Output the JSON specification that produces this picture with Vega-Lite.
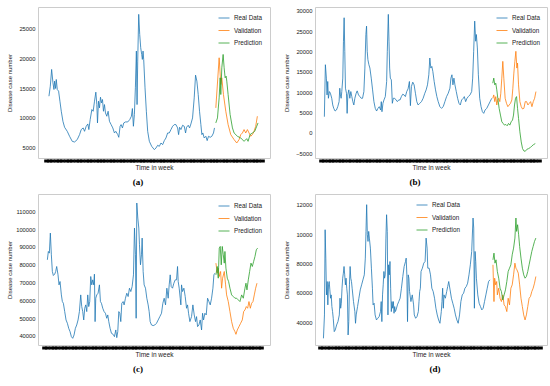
{
"$schema":"https://vega.github.io/schema/vega-lite/v6.json",
"padding":{"left":5,"top":6,"right":0,"bottom":0},
"background":"white",
"resolve":{"scale":{"color":"independent"},"legend":{"color":"independent"}},
"datasets":{
"a":[
{"s":"Real Data","w":0,"v":13620},{"s":"Real Data","w":4,"v":15310},{"s":"Real Data","w":8,"v":18130},{"s":"Real Data","w":12,"v":15870},{"s":"Real Data","w":15,"v":14750},{"s":"Real Data","w":17,"v":16160},{"s":"Real Data","w":20,"v":14920},{"s":"Real Data","w":22,"v":16440},{"s":"Real Data","w":25,"v":14750},{"s":"Real Data","w":29,"v":14470},{"s":"Real Data","w":33,"v":12780},{"s":"Real Data","w":37,"v":11080},{"s":"Real Data","w":42,"v":9390},{"s":"Real Data","w":47,"v":8380},{"s":"Real Data","w":55,"v":7700},{"s":"Real Data","w":62,"v":6860},{"s":"Real Data","w":70,"v":6010},{"s":"Real Data","w":77,"v":5900},{"s":"Real Data","w":85,"v":6300},{"s":"Real Data","w":92,"v":7140},{"s":"Real Data","w":97,"v":7990},{"s":"Real Data","w":103,"v":8270},{"s":"Real Data","w":107,"v":7700},{"s":"Real Data","w":112,"v":8550},{"s":"Real Data","w":117,"v":8940},{"s":"Real Data","w":120,"v":7990},{"s":"Real Data","w":124,"v":9680},{"s":"Real Data","w":129,"v":11370},{"s":"Real Data","w":133,"v":11080},{"s":"Real Data","w":137,"v":12780},{"s":"Real Data","w":141,"v":14300},{"s":"Real Data","w":144,"v":12210},{"s":"Real Data","w":146,"v":9110},{"s":"Real Data","w":149,"v":12780},{"s":"Real Data","w":152,"v":11650},{"s":"Real Data","w":155,"v":13450},{"s":"Real Data","w":158,"v":12490},{"s":"Real Data","w":161,"v":13060},{"s":"Real Data","w":164,"v":11080},{"s":"Real Data","w":167,"v":12210},{"s":"Real Data","w":170,"v":10800},{"s":"Real Data","w":174,"v":10240},{"s":"Real Data","w":178,"v":11080},{"s":"Real Data","w":182,"v":9390},{"s":"Real Data","w":187,"v":8830},{"s":"Real Data","w":192,"v":8270},{"s":"Real Data","w":197,"v":7420},{"s":"Real Data","w":201,"v":7700},{"s":"Real Data","w":207,"v":7140},{"s":"Real Data","w":210,"v":6690},{"s":"Real Data","w":214,"v":8550},{"s":"Real Data","w":217,"v":8830},{"s":"Real Data","w":221,"v":8270},{"s":"Real Data","w":225,"v":9110},{"s":"Real Data","w":230,"v":9280},{"s":"Real Data","w":237,"v":9280},{"s":"Real Data","w":243,"v":9680},{"s":"Real Data","w":248,"v":10240},{"s":"Real Data","w":251,"v":11540},{"s":"Real Data","w":254,"v":8550},{"s":"Real Data","w":257,"v":10520},{"s":"Real Data","w":260,"v":15030},{"s":"Real Data","w":263,"v":21230},{"s":"Real Data","w":265,"v":12210},{"s":"Real Data","w":267,"v":19540},{"s":"Real Data","w":270,"v":27420},{"s":"Real Data","w":273,"v":24040},{"s":"Real Data","w":276,"v":21790},{"s":"Real Data","w":279,"v":20660},{"s":"Real Data","w":281,"v":19820},{"s":"Real Data","w":283,"v":21230},{"s":"Real Data","w":285,"v":19820},{"s":"Real Data","w":289,"v":15030},{"s":"Real Data","w":293,"v":11080},{"s":"Real Data","w":297,"v":7700},{"s":"Real Data","w":302,"v":6010},{"s":"Real Data","w":309,"v":5170},{"s":"Real Data","w":317,"v":4610},{"s":"Real Data","w":322,"v":4890},{"s":"Real Data","w":327,"v":5340},{"s":"Real Data","w":332,"v":5170},{"s":"Real Data","w":337,"v":5730},{"s":"Real Data","w":342,"v":5450},{"s":"Real Data","w":347,"v":6130},{"s":"Real Data","w":352,"v":6580},{"s":"Real Data","w":357,"v":7420},{"s":"Real Data","w":362,"v":7420},{"s":"Real Data","w":367,"v":7990},{"s":"Real Data","w":372,"v":8550},{"s":"Real Data","w":377,"v":8830},{"s":"Real Data","w":382,"v":8830},{"s":"Real Data","w":387,"v":8270},{"s":"Real Data","w":390,"v":7140},{"s":"Real Data","w":393,"v":8380},{"s":"Real Data","w":397,"v":7990},{"s":"Real Data","w":402,"v":8720},{"s":"Real Data","w":407,"v":8550},{"s":"Real Data","w":411,"v":7420},{"s":"Real Data","w":414,"v":8380},{"s":"Real Data","w":419,"v":8720},{"s":"Real Data","w":423,"v":8270},{"s":"Real Data","w":427,"v":8940},{"s":"Real Data","w":432,"v":9960},{"s":"Real Data","w":437,"v":13340},{"s":"Real Data","w":441,"v":17170},{"s":"Real Data","w":445,"v":16160},{"s":"Real Data","w":449,"v":13900},{"s":"Real Data","w":453,"v":11080},{"s":"Real Data","w":457,"v":8830},{"s":"Real Data","w":460,"v":7140},{"s":"Real Data","w":463,"v":7420},{"s":"Real Data","w":467,"v":6580},{"s":"Real Data","w":472,"v":6860},{"s":"Real Data","w":476,"v":6130},{"s":"Real Data","w":480,"v":6860},{"s":"Real Data","w":485,"v":6690},{"s":"Real Data","w":490,"v":6860},{"s":"Real Data","w":495,"v":7420},{"s":"Real Data","w":498,"v":8270},
{"s":"Validation","w":502,"v":11650},{"s":"Validation","w":512,"v":20100},{"s":"Validation","w":517,"v":15590},{"s":"Validation","w":520,"v":16720},{"s":"Validation","w":525,"v":13900},{"s":"Validation","w":532,"v":11080},{"s":"Validation","w":539,"v":8830},{"s":"Validation","w":547,"v":7140},{"s":"Validation","w":557,"v":6300},{"s":"Validation","w":565,"v":5730},{"s":"Validation","w":572,"v":6300},{"s":"Validation","w":577,"v":7140},{"s":"Validation","w":582,"v":7420},{"s":"Validation","w":587,"v":7990},{"s":"Validation","w":592,"v":7420},{"s":"Validation","w":597,"v":7990},{"s":"Validation","w":602,"v":7420},{"s":"Validation","w":607,"v":6860},{"s":"Validation","w":612,"v":7140},{"s":"Validation","w":617,"v":7700},{"s":"Validation","w":622,"v":8550},{"s":"Validation","w":627,"v":10240},
{"s":"Prediction","w":502,"v":9110},{"s":"Prediction","w":507,"v":9960},{"s":"Prediction","w":512,"v":13340},{"s":"Prediction","w":515,"v":16720},{"s":"Prediction","w":517,"v":13900},{"s":"Prediction","w":520,"v":18410},{"s":"Prediction","w":524,"v":20660},{"s":"Prediction","w":527,"v":18410},{"s":"Prediction","w":530,"v":16720},{"s":"Prediction","w":533,"v":17000},{"s":"Prediction","w":535,"v":16160},{"s":"Prediction","w":539,"v":13900},{"s":"Prediction","w":545,"v":10520},{"s":"Prediction","w":552,"v":8270},{"s":"Prediction","w":557,"v":7420},{"s":"Prediction","w":567,"v":6860},{"s":"Prediction","w":577,"v":6580},{"s":"Prediction","w":587,"v":6010},{"s":"Prediction","w":595,"v":6460},{"s":"Prediction","w":599,"v":6010},{"s":"Prediction","w":605,"v":7140},{"s":"Prediction","w":612,"v":7420},{"s":"Prediction","w":619,"v":7700},{"s":"Prediction","w":625,"v":8550},{"s":"Prediction","w":629,"v":9110}
],
"b":[
{"s":"Real Data","w":0,"v":3955},{"s":"Real Data","w":3,"v":16727},{"s":"Real Data","w":6,"v":13431},{"s":"Real Data","w":8,"v":9311},{"s":"Real Data","w":10,"v":12607},{"s":"Real Data","w":12,"v":8487},{"s":"Real Data","w":15,"v":10135},{"s":"Real Data","w":18,"v":9723},{"s":"Real Data","w":22,"v":8487},{"s":"Real Data","w":25,"v":6839},{"s":"Real Data","w":28,"v":6015},{"s":"Real Data","w":32,"v":5356},{"s":"Real Data","w":36,"v":5603},{"s":"Real Data","w":40,"v":6427},{"s":"Real Data","w":44,"v":7663},{"s":"Real Data","w":46,"v":10959},{"s":"Real Data","w":48,"v":9311},{"s":"Real Data","w":50,"v":8487},{"s":"Real Data","w":52,"v":10135},{"s":"Real Data","w":55,"v":13431},{"s":"Real Data","w":57,"v":22495},{"s":"Real Data","w":59,"v":28263},{"s":"Real Data","w":61,"v":20023},{"s":"Real Data","w":63,"v":10959},{"s":"Real Data","w":66,"v":9723},{"s":"Real Data","w":68,"v":4779},{"s":"Real Data","w":70,"v":9311},{"s":"Real Data","w":73,"v":10547},{"s":"Real Data","w":76,"v":8487},{"s":"Real Data","w":79,"v":10135},{"s":"Real Data","w":82,"v":8899},{"s":"Real Data","w":85,"v":7663},{"s":"Real Data","w":88,"v":6839},{"s":"Real Data","w":91,"v":8487},{"s":"Real Data","w":95,"v":9723},{"s":"Real Data","w":98,"v":10300},{"s":"Real Data","w":102,"v":9311},{"s":"Real Data","w":106,"v":8899},{"s":"Real Data","w":110,"v":8487},{"s":"Real Data","w":114,"v":8487},{"s":"Real Data","w":118,"v":10135},{"s":"Real Data","w":121,"v":15903},{"s":"Real Data","w":124,"v":24143},{"s":"Real Data","w":126,"v":26203},{"s":"Real Data","w":128,"v":20023},{"s":"Real Data","w":130,"v":17963},{"s":"Real Data","w":133,"v":16727},{"s":"Real Data","w":136,"v":15903},{"s":"Real Data","w":140,"v":13431},{"s":"Real Data","w":144,"v":10547},{"s":"Real Data","w":148,"v":7663},{"s":"Real Data","w":152,"v":6015},{"s":"Real Data","w":156,"v":5356},{"s":"Real Data","w":160,"v":6015},{"s":"Real Data","w":164,"v":6427},{"s":"Real Data","w":168,"v":5603},{"s":"Real Data","w":170,"v":7663},{"s":"Real Data","w":172,"v":5191},{"s":"Real Data","w":175,"v":7251},{"s":"Real Data","w":178,"v":8075},{"s":"Real Data","w":182,"v":8899},{"s":"Real Data","w":186,"v":12607},{"s":"Real Data","w":188,"v":20023},{"s":"Real Data","w":191,"v":29087},{"s":"Real Data","w":193,"v":22495},{"s":"Real Data","w":195,"v":15903},{"s":"Real Data","w":197,"v":13431},{"s":"Real Data","w":200,"v":13019},{"s":"Real Data","w":203,"v":7251},{"s":"Real Data","w":206,"v":8487},{"s":"Real Data","w":210,"v":8487},{"s":"Real Data","w":214,"v":8075},{"s":"Real Data","w":218,"v":7663},{"s":"Real Data","w":222,"v":8075},{"s":"Real Data","w":226,"v":8075},{"s":"Real Data","w":230,"v":8899},{"s":"Real Data","w":234,"v":9476},{"s":"Real Data","w":238,"v":9311},{"s":"Real Data","w":242,"v":8899},{"s":"Real Data","w":246,"v":10135},{"s":"Real Data","w":250,"v":10794},{"s":"Real Data","w":254,"v":12607},{"s":"Real Data","w":257,"v":6674},{"s":"Real Data","w":260,"v":11371},{"s":"Real Data","w":264,"v":12442},{"s":"Real Data","w":268,"v":11783},{"s":"Real Data","w":272,"v":9723},{"s":"Real Data","w":276,"v":7663},{"s":"Real Data","w":280,"v":6839},{"s":"Real Data","w":285,"v":7251},{"s":"Real Data","w":290,"v":7663},{"s":"Real Data","w":295,"v":8487},{"s":"Real Data","w":300,"v":9723},{"s":"Real Data","w":304,"v":10547},{"s":"Real Data","w":308,"v":11783},{"s":"Real Data","w":312,"v":14255},{"s":"Real Data","w":315,"v":18375},{"s":"Real Data","w":318,"v":15903},{"s":"Real Data","w":321,"v":16315},{"s":"Real Data","w":324,"v":15079},{"s":"Real Data","w":328,"v":12607},{"s":"Real Data","w":332,"v":10547},{"s":"Real Data","w":336,"v":8899},{"s":"Real Data","w":340,"v":7663},{"s":"Real Data","w":345,"v":6427},{"s":"Real Data","w":350,"v":6015},{"s":"Real Data","w":355,"v":6427},{"s":"Real Data","w":360,"v":7663},{"s":"Real Data","w":365,"v":8899},{"s":"Real Data","w":370,"v":9723},{"s":"Real Data","w":375,"v":10959},{"s":"Real Data","w":378,"v":13431},{"s":"Real Data","w":381,"v":14255},{"s":"Real Data","w":384,"v":11783},{"s":"Real Data","w":387,"v":13431},{"s":"Real Data","w":390,"v":11783},{"s":"Real Data","w":394,"v":10135},{"s":"Real Data","w":398,"v":8487},{"s":"Real Data","w":402,"v":7251},{"s":"Real Data","w":406,"v":6839},{"s":"Real Data","w":410,"v":8075},{"s":"Real Data","w":415,"v":8487},{"s":"Real Data","w":418,"v":8899},{"s":"Real Data","w":422,"v":7663},{"s":"Real Data","w":426,"v":8487},{"s":"Real Data","w":430,"v":8899},{"s":"Real Data","w":435,"v":9311},{"s":"Real Data","w":440,"v":10135},{"s":"Real Data","w":443,"v":13431},{"s":"Real Data","w":446,"v":20023},{"s":"Real Data","w":449,"v":27439},{"s":"Real Data","w":452,"v":22495},{"s":"Real Data","w":454,"v":24143},{"s":"Real Data","w":457,"v":20847},{"s":"Real Data","w":460,"v":14255},{"s":"Real Data","w":464,"v":8487},{"s":"Real Data","w":468,"v":6427},{"s":"Real Data","w":472,"v":5191},{"s":"Real Data","w":476,"v":4779},{"s":"Real Data","w":480,"v":5603},{"s":"Real Data","w":485,"v":6015},{"s":"Real Data","w":490,"v":6839},{"s":"Real Data","w":495,"v":7663},{"s":"Real Data","w":500,"v":8487},
{"s":"Validation","w":503,"v":8487},{"s":"Validation","w":506,"v":9311},{"s":"Validation","w":509,"v":7663},{"s":"Validation","w":512,"v":8899},{"s":"Validation","w":515,"v":6839},{"s":"Validation","w":518,"v":8075},{"s":"Validation","w":521,"v":8487},{"s":"Validation","w":524,"v":7663},{"s":"Validation","w":527,"v":9723},{"s":"Validation","w":530,"v":13431},{"s":"Validation","w":533,"v":17550},{"s":"Validation","w":536,"v":13431},{"s":"Validation","w":540,"v":8487},{"s":"Validation","w":544,"v":7251},{"s":"Validation","w":548,"v":6427},{"s":"Validation","w":552,"v":6839},{"s":"Validation","w":556,"v":7251},{"s":"Validation","w":560,"v":8075},{"s":"Validation","w":563,"v":10959},{"s":"Validation","w":566,"v":14667},{"s":"Validation","w":569,"v":17550},{"s":"Validation","w":572,"v":20020},{"s":"Validation","w":575,"v":15903},{"s":"Validation","w":577,"v":17139},{"s":"Validation","w":580,"v":11783},{"s":"Validation","w":584,"v":7663},{"s":"Validation","w":588,"v":6427},{"s":"Validation","w":592,"v":5850},{"s":"Validation","w":596,"v":6015},{"s":"Validation","w":600,"v":7663},{"s":"Validation","w":604,"v":7663},{"s":"Validation","w":608,"v":6839},{"s":"Validation","w":612,"v":7251},{"s":"Validation","w":616,"v":7663},{"s":"Validation","w":620,"v":6427},{"s":"Validation","w":624,"v":7663},{"s":"Validation","w":628,"v":8487},{"s":"Validation","w":632,"v":10130},
{"s":"Prediction","w":503,"v":12195},{"s":"Prediction","w":506,"v":13431},{"s":"Prediction","w":509,"v":11783},{"s":"Prediction","w":512,"v":12195},{"s":"Prediction","w":515,"v":10547},{"s":"Prediction","w":518,"v":8487},{"s":"Prediction","w":522,"v":6015},{"s":"Prediction","w":526,"v":4367},{"s":"Prediction","w":530,"v":2719},{"s":"Prediction","w":534,"v":2307},{"s":"Prediction","w":538,"v":1895},{"s":"Prediction","w":542,"v":2060},{"s":"Prediction","w":546,"v":1730},{"s":"Prediction","w":550,"v":2307},{"s":"Prediction","w":554,"v":1895},{"s":"Prediction","w":558,"v":2719},{"s":"Prediction","w":562,"v":3131},{"s":"Prediction","w":565,"v":4367},{"s":"Prediction","w":568,"v":6839},{"s":"Prediction","w":571,"v":8487},{"s":"Prediction","w":574,"v":8899},{"s":"Prediction","w":577,"v":6015},{"s":"Prediction","w":580,"v":3543},{"s":"Prediction","w":584,"v":247},{"s":"Prediction","w":588,"v":-2225},{"s":"Prediction","w":592,"v":-3872},{"s":"Prediction","w":596,"v":-4450},{"s":"Prediction","w":600,"v":-4532},{"s":"Prediction","w":605,"v":-4038},{"s":"Prediction","w":610,"v":-3872},{"s":"Prediction","w":615,"v":-3625},{"s":"Prediction","w":620,"v":-3213},{"s":"Prediction","w":625,"v":-2884},{"s":"Prediction","w":630,"v":-2637}
],
"c":[
{"s":"Real Data","w":0,"v":82770},{"s":"Real Data","w":3,"v":87460},{"s":"Real Data","w":6,"v":86520},{"s":"Real Data","w":9,"v":97780},{"s":"Real Data","w":12,"v":85590},{"s":"Real Data","w":15,"v":76210},{"s":"Real Data","w":18,"v":73960},{"s":"Real Data","w":22,"v":74710},{"s":"Real Data","w":25,"v":76210},{"s":"Real Data","w":28,"v":79020},{"s":"Real Data","w":32,"v":74330},{"s":"Real Data","w":35,"v":68700},{"s":"Real Data","w":38,"v":70580},{"s":"Real Data","w":42,"v":63070},{"s":"Real Data","w":45,"v":59320},{"s":"Real Data","w":48,"v":58380},{"s":"Real Data","w":52,"v":53690},{"s":"Real Data","w":56,"v":49000},{"s":"Real Data","w":60,"v":47130},{"s":"Real Data","w":64,"v":44310},{"s":"Real Data","w":68,"v":42440},{"s":"Real Data","w":72,"v":39620},{"s":"Real Data","w":76,"v":38690},{"s":"Real Data","w":80,"v":40560},{"s":"Real Data","w":84,"v":44310},{"s":"Real Data","w":88,"v":46190},{"s":"Real Data","w":92,"v":49000},{"s":"Real Data","w":96,"v":53690},{"s":"Real Data","w":100,"v":63070},{"s":"Real Data","w":103,"v":56510},{"s":"Real Data","w":106,"v":53690},{"s":"Real Data","w":109,"v":49000},{"s":"Real Data","w":112,"v":55570},{"s":"Real Data","w":115,"v":57450},{"s":"Real Data","w":118,"v":53690},{"s":"Real Data","w":121,"v":63070},{"s":"Real Data","w":124,"v":56510},{"s":"Real Data","w":127,"v":59320},{"s":"Real Data","w":130,"v":73390},{"s":"Real Data","w":133,"v":68700},{"s":"Real Data","w":136,"v":71520},{"s":"Real Data","w":139,"v":68700},{"s":"Real Data","w":141,"v":74710},{"s":"Real Data","w":143,"v":48070},{"s":"Real Data","w":145,"v":61200},{"s":"Real Data","w":148,"v":63070},{"s":"Real Data","w":152,"v":64010},{"s":"Real Data","w":156,"v":68700},{"s":"Real Data","w":159,"v":59320},{"s":"Real Data","w":162,"v":58380},{"s":"Real Data","w":166,"v":55570},{"s":"Real Data","w":170,"v":53690},{"s":"Real Data","w":174,"v":52760},{"s":"Real Data","w":178,"v":49940},{"s":"Real Data","w":181,"v":51820},{"s":"Real Data","w":184,"v":48070},{"s":"Real Data","w":188,"v":44310},{"s":"Real Data","w":192,"v":41500},{"s":"Real Data","w":197,"v":40940},{"s":"Real Data","w":201,"v":39620},{"s":"Real Data","w":205,"v":43380},{"s":"Real Data","w":208,"v":39060},{"s":"Real Data","w":211,"v":42440},{"s":"Real Data","w":214,"v":53690},{"s":"Real Data","w":217,"v":52760},{"s":"Real Data","w":220,"v":48070},{"s":"Real Data","w":223,"v":58380},{"s":"Real Data","w":227,"v":59320},{"s":"Real Data","w":230,"v":57450},{"s":"Real Data","w":234,"v":61200},{"s":"Real Data","w":238,"v":64010},{"s":"Real Data","w":242,"v":62140},{"s":"Real Data","w":246,"v":66830},{"s":"Real Data","w":250,"v":64950},{"s":"Real Data","w":254,"v":67760},{"s":"Real Data","w":258,"v":74330},{"s":"Real Data","w":261,"v":100600},{"s":"Real Data","w":264,"v":85590},{"s":"Real Data","w":266,"v":49940},{"s":"Real Data","w":268,"v":114660},{"s":"Real Data","w":271,"v":106220},{"s":"Real Data","w":274,"v":100600},{"s":"Real Data","w":276,"v":91210},{"s":"Real Data","w":279,"v":79960},{"s":"Real Data","w":282,"v":85590},{"s":"Real Data","w":284,"v":94970},{"s":"Real Data","w":287,"v":76210},{"s":"Real Data","w":290,"v":68700},{"s":"Real Data","w":294,"v":66830},{"s":"Real Data","w":298,"v":61200},{"s":"Real Data","w":302,"v":57450},{"s":"Real Data","w":305,"v":53690},{"s":"Real Data","w":308,"v":48070},{"s":"Real Data","w":312,"v":46190},{"s":"Real Data","w":317,"v":45820},{"s":"Real Data","w":322,"v":46190},{"s":"Real Data","w":327,"v":47130},{"s":"Real Data","w":332,"v":49000},{"s":"Real Data","w":337,"v":50880},{"s":"Real Data","w":342,"v":52760},{"s":"Real Data","w":346,"v":58380},{"s":"Real Data","w":350,"v":61200},{"s":"Real Data","w":354,"v":57450},{"s":"Real Data","w":358,"v":66830},{"s":"Real Data","w":362,"v":61200},{"s":"Real Data","w":365,"v":68700},{"s":"Real Data","w":368,"v":74330},{"s":"Real Data","w":371,"v":67760},{"s":"Real Data","w":375,"v":66830},{"s":"Real Data","w":379,"v":69640},{"s":"Real Data","w":383,"v":71520},{"s":"Real Data","w":387,"v":71520},{"s":"Real Data","w":390,"v":79020},{"s":"Real Data","w":392,"v":70580},{"s":"Real Data","w":395,"v":66830},{"s":"Real Data","w":398,"v":61200},{"s":"Real Data","w":400,"v":57450},{"s":"Real Data","w":402,"v":68700},{"s":"Real Data","w":405,"v":64950},{"s":"Real Data","w":409,"v":66830},{"s":"Real Data","w":413,"v":62140},{"s":"Real Data","w":417,"v":55570},{"s":"Real Data","w":420,"v":57450},{"s":"Real Data","w":423,"v":52760},{"s":"Real Data","w":427,"v":48070},{"s":"Real Data","w":432,"v":50880},{"s":"Real Data","w":436,"v":57450},{"s":"Real Data","w":440,"v":51820},{"s":"Real Data","w":444,"v":48070},{"s":"Real Data","w":447,"v":50880},{"s":"Real Data","w":450,"v":45250},{"s":"Real Data","w":454,"v":46190},{"s":"Real Data","w":458,"v":49000},{"s":"Real Data","w":462,"v":43380},{"s":"Real Data","w":465,"v":52760},{"s":"Real Data","w":468,"v":49000},{"s":"Real Data","w":472,"v":52760},{"s":"Real Data","w":476,"v":51820},{"s":"Real Data","w":480,"v":61200},{"s":"Real Data","w":484,"v":59320},{"s":"Real Data","w":488,"v":57450},{"s":"Real Data","w":492,"v":61200},{"s":"Real Data","w":496,"v":66830},{"s":"Real Data","w":499,"v":74330},{"s":"Real Data","w":502,"v":75270},
{"s":"Validation","w":505,"v":80900},{"s":"Validation","w":509,"v":75270},{"s":"Validation","w":512,"v":78080},{"s":"Validation","w":515,"v":73390},{"s":"Validation","w":519,"v":76210},{"s":"Validation","w":522,"v":66830},{"s":"Validation","w":525,"v":72460},{"s":"Validation","w":530,"v":76210},{"s":"Validation","w":534,"v":68700},{"s":"Validation","w":537,"v":63070},{"s":"Validation","w":542,"v":59320},{"s":"Validation","w":547,"v":53690},{"s":"Validation","w":552,"v":48070},{"s":"Validation","w":557,"v":44310},{"s":"Validation","w":562,"v":42440},{"s":"Validation","w":565,"v":40940},{"s":"Validation","w":569,"v":43380},{"s":"Validation","w":574,"v":45250},{"s":"Validation","w":579,"v":47130},{"s":"Validation","w":584,"v":49000},{"s":"Validation","w":588,"v":53690},{"s":"Validation","w":592,"v":54630},{"s":"Validation","w":596,"v":56510},{"s":"Validation","w":600,"v":55570},{"s":"Validation","w":604,"v":59320},{"s":"Validation","w":608,"v":55570},{"s":"Validation","w":612,"v":58380},{"s":"Validation","w":616,"v":59320},{"s":"Validation","w":620,"v":63070},{"s":"Validation","w":624,"v":66830},{"s":"Validation","w":628,"v":69640},
{"s":"Prediction","w":505,"v":74330},{"s":"Prediction","w":509,"v":79020},{"s":"Prediction","w":512,"v":72460},{"s":"Prediction","w":515,"v":89340},{"s":"Prediction","w":518,"v":90280},{"s":"Prediction","w":521,"v":79960},{"s":"Prediction","w":524,"v":90280},{"s":"Prediction","w":527,"v":85590},{"s":"Prediction","w":530,"v":80900},{"s":"Prediction","w":532,"v":87460},{"s":"Prediction","w":535,"v":78080},{"s":"Prediction","w":539,"v":72460},{"s":"Prediction","w":543,"v":70580},{"s":"Prediction","w":547,"v":66830},{"s":"Prediction","w":552,"v":63070},{"s":"Prediction","w":557,"v":62140},{"s":"Prediction","w":562,"v":61200},{"s":"Prediction","w":567,"v":61200},{"s":"Prediction","w":572,"v":60260},{"s":"Prediction","w":577,"v":59320},{"s":"Prediction","w":582,"v":63070},{"s":"Prediction","w":587,"v":61200},{"s":"Prediction","w":592,"v":66830},{"s":"Prediction","w":595,"v":69640},{"s":"Prediction","w":598,"v":65890},{"s":"Prediction","w":602,"v":71520},{"s":"Prediction","w":606,"v":76210},{"s":"Prediction","w":610,"v":80900},{"s":"Prediction","w":614,"v":79020},{"s":"Prediction","w":618,"v":81840},{"s":"Prediction","w":622,"v":84650},{"s":"Prediction","w":626,"v":88400},{"s":"Prediction","w":630,"v":89340}
],
"d":[
{"s":"Real Data","w":0,"v":29090},{"s":"Real Data","w":3,"v":45000},{"s":"Real Data","w":5,"v":102960},{"s":"Real Data","w":7,"v":83640},{"s":"Real Data","w":9,"v":58640},{"s":"Real Data","w":11,"v":67730},{"s":"Real Data","w":13,"v":51820},{"s":"Real Data","w":15,"v":65460},{"s":"Real Data","w":17,"v":67730},{"s":"Real Data","w":19,"v":62050},{"s":"Real Data","w":21,"v":56370},{"s":"Real Data","w":23,"v":58640},{"s":"Real Data","w":25,"v":50680},{"s":"Real Data","w":27,"v":47270},{"s":"Real Data","w":29,"v":42730},{"s":"Real Data","w":32,"v":33640},{"s":"Real Data","w":35,"v":34770},{"s":"Real Data","w":39,"v":38180},{"s":"Real Data","w":43,"v":40450},{"s":"Real Data","w":47,"v":45000},{"s":"Real Data","w":49,"v":56370},{"s":"Real Data","w":51,"v":49550},{"s":"Real Data","w":53,"v":52960},{"s":"Real Data","w":55,"v":63180},{"s":"Real Data","w":57,"v":70000},{"s":"Real Data","w":59,"v":73410},{"s":"Real Data","w":61,"v":77960},{"s":"Real Data","w":63,"v":72280},{"s":"Real Data","w":65,"v":65460},{"s":"Real Data","w":67,"v":70000},{"s":"Real Data","w":69,"v":63180},{"s":"Real Data","w":71,"v":58640},{"s":"Real Data","w":73,"v":31360},{"s":"Real Data","w":75,"v":40450},{"s":"Real Data","w":77,"v":65460},{"s":"Real Data","w":79,"v":77960},{"s":"Real Data","w":81,"v":70000},{"s":"Real Data","w":83,"v":67730},{"s":"Real Data","w":85,"v":63180},{"s":"Real Data","w":89,"v":54090},{"s":"Real Data","w":93,"v":47270},{"s":"Real Data","w":95,"v":39320},{"s":"Real Data","w":97,"v":45000},{"s":"Real Data","w":101,"v":50680},{"s":"Real Data","w":105,"v":56370},{"s":"Real Data","w":109,"v":62050},{"s":"Real Data","w":113,"v":65460},{"s":"Real Data","w":117,"v":68870},{"s":"Real Data","w":121,"v":72280},{"s":"Real Data","w":124,"v":83640},{"s":"Real Data","w":126,"v":101830},{"s":"Real Data","w":128,"v":120010},{"s":"Real Data","w":130,"v":99550},{"s":"Real Data","w":132,"v":95010},{"s":"Real Data","w":134,"v":101830},{"s":"Real Data","w":136,"v":97280},{"s":"Real Data","w":139,"v":90460},{"s":"Real Data","w":142,"v":76820},{"s":"Real Data","w":145,"v":63180},{"s":"Real Data","w":147,"v":51820},{"s":"Real Data","w":150,"v":52960},{"s":"Real Data","w":153,"v":45000},{"s":"Real Data","w":157,"v":41590},{"s":"Real Data","w":161,"v":42730},{"s":"Real Data","w":165,"v":43860},{"s":"Real Data","w":169,"v":47270},{"s":"Real Data","w":171,"v":54090},{"s":"Real Data","w":173,"v":40450},{"s":"Real Data","w":175,"v":58640},{"s":"Real Data","w":177,"v":65460},{"s":"Real Data","w":179,"v":74550},{"s":"Real Data","w":181,"v":70000},{"s":"Real Data","w":183,"v":72280},{"s":"Real Data","w":185,"v":97280},{"s":"Real Data","w":187,"v":113190},{"s":"Real Data","w":189,"v":101830},{"s":"Real Data","w":191,"v":45000},{"s":"Real Data","w":193,"v":79100},{"s":"Real Data","w":195,"v":72280},{"s":"Real Data","w":197,"v":81370},{"s":"Real Data","w":199,"v":63180},{"s":"Real Data","w":201,"v":47270},{"s":"Real Data","w":203,"v":54090},{"s":"Real Data","w":205,"v":49550},{"s":"Real Data","w":207,"v":54090},{"s":"Real Data","w":209,"v":46140},{"s":"Real Data","w":211,"v":50680},{"s":"Real Data","w":213,"v":47270},{"s":"Real Data","w":215,"v":48410},{"s":"Real Data","w":219,"v":51820},{"s":"Real Data","w":223,"v":54090},{"s":"Real Data","w":227,"v":56370},{"s":"Real Data","w":231,"v":63180},{"s":"Real Data","w":235,"v":71140},{"s":"Real Data","w":239,"v":77960},{"s":"Real Data","w":243,"v":81370},{"s":"Real Data","w":245,"v":83640},{"s":"Real Data","w":247,"v":72280},{"s":"Real Data","w":249,"v":40450},{"s":"Real Data","w":251,"v":72280},{"s":"Real Data","w":253,"v":70000},{"s":"Real Data","w":255,"v":60910},{"s":"Real Data","w":259,"v":54090},{"s":"Real Data","w":263,"v":58640},{"s":"Real Data","w":267,"v":51820},{"s":"Real Data","w":269,"v":45000},{"s":"Real Data","w":273,"v":42730},{"s":"Real Data","w":277,"v":43860},{"s":"Real Data","w":281,"v":47270},{"s":"Real Data","w":283,"v":54090},{"s":"Real Data","w":285,"v":60910},{"s":"Real Data","w":287,"v":63180},{"s":"Real Data","w":289,"v":74550},{"s":"Real Data","w":293,"v":76820},{"s":"Real Data","w":297,"v":80230},{"s":"Real Data","w":301,"v":81370},{"s":"Real Data","w":304,"v":97280},{"s":"Real Data","w":307,"v":90460},{"s":"Real Data","w":309,"v":76820},{"s":"Real Data","w":313,"v":76820},{"s":"Real Data","w":317,"v":72280},{"s":"Real Data","w":321,"v":63180},{"s":"Real Data","w":325,"v":60910},{"s":"Real Data","w":329,"v":56370},{"s":"Real Data","w":333,"v":49550},{"s":"Real Data","w":337,"v":45000},{"s":"Real Data","w":341,"v":41590},{"s":"Real Data","w":345,"v":39320},{"s":"Real Data","w":349,"v":47270},{"s":"Real Data","w":351,"v":54090},{"s":"Real Data","w":353,"v":63180},{"s":"Real Data","w":355,"v":49550},{"s":"Real Data","w":357,"v":58640},{"s":"Real Data","w":361,"v":56370},{"s":"Real Data","w":365,"v":60910},{"s":"Real Data","w":368,"v":64320},{"s":"Real Data","w":371,"v":67730},{"s":"Real Data","w":375,"v":62050},{"s":"Real Data","w":379,"v":56370},{"s":"Real Data","w":383,"v":52960},{"s":"Real Data","w":387,"v":49550},{"s":"Real Data","w":391,"v":45000},{"s":"Real Data","w":395,"v":41590},{"s":"Real Data","w":399,"v":39320},{"s":"Real Data","w":403,"v":45000},{"s":"Real Data","w":407,"v":54090},{"s":"Real Data","w":411,"v":58640},{"s":"Real Data","w":415,"v":59780},{"s":"Real Data","w":419,"v":63180},{"s":"Real Data","w":423,"v":64320},{"s":"Real Data","w":427,"v":66590},{"s":"Real Data","w":431,"v":72280},{"s":"Real Data","w":435,"v":79100},{"s":"Real Data","w":439,"v":88190},{"s":"Real Data","w":443,"v":110920},{"s":"Real Data","w":445,"v":104100},{"s":"Real Data","w":447,"v":49550},{"s":"Real Data","w":449,"v":88190},{"s":"Real Data","w":451,"v":81370},{"s":"Real Data","w":453,"v":70000},{"s":"Real Data","w":457,"v":58640},{"s":"Real Data","w":461,"v":52960},{"s":"Real Data","w":465,"v":50680},{"s":"Real Data","w":469,"v":48410},{"s":"Real Data","w":473,"v":49550},{"s":"Real Data","w":477,"v":54090},{"s":"Real Data","w":481,"v":58640},{"s":"Real Data","w":485,"v":63180},{"s":"Real Data","w":489,"v":67730},{"s":"Real Data","w":493,"v":68870},
{"s":"Validation","w":502,"v":79100},{"s":"Validation","w":505,"v":54090},{"s":"Validation","w":507,"v":70000},{"s":"Validation","w":510,"v":65460},{"s":"Validation","w":513,"v":67730},{"s":"Validation","w":515,"v":58640},{"s":"Validation","w":519,"v":63180},{"s":"Validation","w":523,"v":56370},{"s":"Validation","w":527,"v":54090},{"s":"Validation","w":531,"v":58640},{"s":"Validation","w":535,"v":51820},{"s":"Validation","w":539,"v":50680},{"s":"Validation","w":543,"v":47270},{"s":"Validation","w":547,"v":56370},{"s":"Validation","w":551,"v":51820},{"s":"Validation","w":555,"v":63180},{"s":"Validation","w":559,"v":65460},{"s":"Validation","w":563,"v":72280},{"s":"Validation","w":567,"v":80230},{"s":"Validation","w":570,"v":76820},{"s":"Validation","w":573,"v":75690},{"s":"Validation","w":577,"v":73410},{"s":"Validation","w":581,"v":65460},{"s":"Validation","w":585,"v":56370},{"s":"Validation","w":589,"v":50680},{"s":"Validation","w":593,"v":45000},{"s":"Validation","w":597,"v":41590},{"s":"Validation","w":601,"v":45000},{"s":"Validation","w":605,"v":50680},{"s":"Validation","w":609,"v":56370},{"s":"Validation","w":613,"v":57500},{"s":"Validation","w":617,"v":60910},{"s":"Validation","w":621,"v":63180},{"s":"Validation","w":625,"v":66590},{"s":"Validation","w":629,"v":71140},
{"s":"Prediction","w":502,"v":82500},{"s":"Prediction","w":505,"v":87050},{"s":"Prediction","w":508,"v":80230},{"s":"Prediction","w":511,"v":82500},{"s":"Prediction","w":515,"v":74550},{"s":"Prediction","w":519,"v":70000},{"s":"Prediction","w":523,"v":63180},{"s":"Prediction","w":527,"v":60910},{"s":"Prediction","w":531,"v":55220},{"s":"Prediction","w":535,"v":58640},{"s":"Prediction","w":539,"v":62050},{"s":"Prediction","w":543,"v":67730},{"s":"Prediction","w":547,"v":74550},{"s":"Prediction","w":551,"v":76820},{"s":"Prediction","w":555,"v":79100},{"s":"Prediction","w":559,"v":85910},{"s":"Prediction","w":563,"v":90460},{"s":"Prediction","w":567,"v":97280},{"s":"Prediction","w":570,"v":110920},{"s":"Prediction","w":572,"v":101830},{"s":"Prediction","w":575,"v":106370},{"s":"Prediction","w":578,"v":99550},{"s":"Prediction","w":581,"v":91600},{"s":"Prediction","w":585,"v":83640},{"s":"Prediction","w":589,"v":76820},{"s":"Prediction","w":593,"v":72280},{"s":"Prediction","w":597,"v":70000},{"s":"Prediction","w":601,"v":71140},{"s":"Prediction","w":605,"v":74550},{"s":"Prediction","w":609,"v":79100},{"s":"Prediction","w":613,"v":83640},{"s":"Prediction","w":617,"v":88190},{"s":"Prediction","w":621,"v":91600},{"s":"Prediction","w":625,"v":95010},{"s":"Prediction","w":629,"v":97280}
]
},
"config":{
"view":{"stroke":"#cccccc","strokeWidth":1},
"font":"Liberation Sans",
"axis":{"grid":false,"domain":false,"labelFont":"Liberation Sans","titleFont":"Liberation Sans","labelColor":"#222222","titleColor":"#222222","titleFontWeight":"normal"},
"axisY":{"ticks":false,"labelFontSize":5.8,"labelPadding":3,"titleFontSize":6,"titlePadding":3,"minExtent":23,"maxExtent":23,"format":"d"},
"axisX":{"labels":false,"ticks":true,"tickColor":"black","tickSize":3,"tickWidth":4.6,"offset":1,"titleFontSize":6.5,"titlePadding":0},
"legend":{"orient":"none","symbolType":"stroke","symbolStrokeWidth":1.8,"symbolSize":121,"labelFontSize":6.3,"labelFont":"Liberation Sans","labelColor":"#222222","rowPadding":2.5,"labelOffset":4},
"title":{"orient":"bottom","font":"Liberation Serif","fontSize":9,"fontWeight":"bold","offset":7,"anchor":"middle","frame":"bounds","color":"black"},
"line":{"strokeWidth":0.8}
},
"spacing":5,
"vconcat":[
{"spacing":11,"resolve":{"scale":{"color":"independent"},"legend":{"color":"independent"}},"hconcat":[
{"width":232,"height":151,"data":{"name":"a"},"title":{"text":"(a)"},"mark":{"type":"line"},
"encoding":{
"x":{"field":"w","type":"quantitative","scale":{"domain":[-33,665],"nice":false,"zero":false},"axis":{"title":"Time in week","values":[-10,0,10,20,30,40,50,60,70,80,90,100,110,120,130,140,150,160,170,180,190,200,210,220,230,240,250,260,270,280,290,300,310,320,330,340,350,360,370,380,390,400,410,420,430,440,450,460,470,480,490,500,510,520,530,540,550,560,570,580,590,600,610,620,630,640]}},
"y":{"field":"v","type":"quantitative","scale":{"domain":[3200,28660],"nice":false,"zero":false},"axis":{"title":"Disease case number","values":[5000,10000,15000,20000,25000]}},
"color":{"field":"s","type":"nominal","scale":{"domain":["Real Data","Validation","Prediction"],"range":["#1f77b4","#ff7f0e","#2ca02c"]},"legend":{"title":null,"legendX":180,"legendY":5}}}},
{"width":232,"height":151,"data":{"name":"b"},"title":{"text":"(b)"},"mark":{"type":"line"},
"encoding":{
"x":{"field":"w","type":"quantitative","scale":{"domain":[-28,665],"nice":false,"zero":false},"axis":{"title":"Time in week","values":[-10,0,10,20,30,40,50,60,70,80,90,100,110,120,130,140,150,160,170,180,190,200,210,220,230,240,250,260,270,280,290,300,310,320,330,340,350,360,370,380,390,400,410,420,430,440,450,460,470,480,490,500,510,520,530,540,550,560,570,580,590,600,610,620,630,640]}},
"y":{"field":"v","type":"quantitative","scale":{"domain":[-6180,30900],"nice":false,"zero":false},"axis":{"title":"Disease case number","values":[-5000,0,5000,10000,15000,20000,25000,30000]}},
"color":{"field":"s","type":"nominal","scale":{"domain":["Real Data","Validation","Prediction"],"range":["#1f77b4","#ff7f0e","#2ca02c"]},"legend":{"title":null,"legendX":181,"legendY":5}}}}
]},
{"spacing":11,"resolve":{"scale":{"color":"independent"},"legend":{"color":"independent"}},"hconcat":[
{"width":232,"height":151,"data":{"name":"c"},"title":{"text":"(c)"},"mark":{"type":"line"},
"encoding":{
"x":{"field":"w","type":"quantitative","scale":{"domain":[-28,667],"nice":false,"zero":false},"axis":{"title":"Time in week","values":[-10,0,10,20,30,40,50,60,70,80,90,100,110,120,130,140,150,160,170,180,190,200,210,220,230,240,250,260,270,280,290,300,310,320,330,340,350,360,370,380,390,400,410,420,430,440,450,460,470,480,490,500,510,520,530,540,550,560,570,580,590,600,610,620,630,640]}},
"y":{"field":"v","type":"quantitative","scale":{"domain":[34935,119730],"nice":false,"zero":false},"axis":{"title":"Disease case number","values":[40000,50000,60000,70000,80000,90000,100000,110000]}},
"color":{"field":"s","type":"nominal","scale":{"domain":["Real Data","Validation","Prediction"],"range":["#1f77b4","#ff7f0e","#2ca02c"]},"legend":{"title":null,"legendX":180,"legendY":6}}}},
{"width":232,"height":151,"data":{"name":"d"},"title":{"text":"(d)","dx":20},"mark":{"type":"line"},
"encoding":{
"x":{"field":"w","type":"quantitative","scale":{"domain":[-25,662],"nice":false,"zero":false},"axis":{"title":"Time in week","values":[-10,0,10,20,30,40,50,60,70,80,90,100,110,120,130,140,150,160,170,180,190,200,210,220,230,240,250,260,270,280,290,300,310,320,330,340,350,360,370,380,390,400,410,420,430,440,450,460,470,480,490,500,510,520,530,540,550,560,570,580,590,600,610,620,630,640]}},
"y":{"field":"v","type":"quantitative","scale":{"domain":[24540,127280],"nice":false,"zero":false},"axis":{"title":"Disease case number","values":[40000,60000,80000,100000,120000],"labelExpr":"datum.value == 120000 ? '12000' : datum.value == 100000 ? '10000' : datum.label"}},
"color":{"field":"s","type":"nominal","scale":{"domain":["Real Data","Validation","Prediction"],"range":["#1f77b4","#ff7f0e","#2ca02c"]},"legend":{"title":null,"legendX":101,"legendY":5}}}}
]}
]
}
